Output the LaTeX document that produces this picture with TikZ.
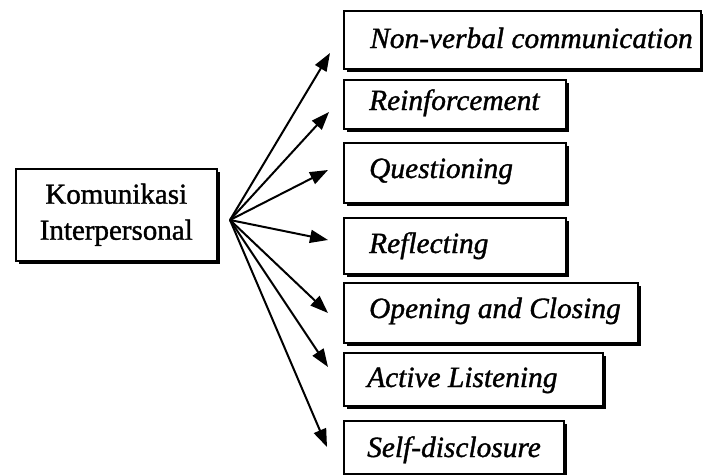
\documentclass[tikz,border=0pt]{standalone}
\usepackage{fontspec}
\setmainfont{Liberation Serif}[RawFeature={embolden=1.2}]
\usetikzlibrary{arrows.meta,shadows}
\begin{document}
\begin{tikzpicture}[x=1pt,y=-1pt,
  boxshadow/.style={drop shadow={shadow xshift=3pt,shadow yshift=-3pt,fill=black,opacity=1}},
  rbox/.style={draw=black,fill=white,line width=1.5pt,boxshadow,anchor=north west,
    inner sep=0pt},
  rtext/.style={anchor=base west,inner sep=0pt,font=\fontsize{29.4}{34}\selectfont\itshape},
  lbox/.style={draw=black,fill=white,line width=1.5pt,boxshadow,anchor=north west,
    inner sep=0pt,align=center,text width=201pt,minimum height=92pt,
    font=\fontsize{29}{36}\selectfont},
  arr/.style={line width=2pt,-{Triangle[length=18pt,width=13pt]}}]
\useasboundingbox (0,0) rectangle (703,474);
\node[lbox] (src) at (15,168) {Komunikasi\\Interpersonal};
\node[rbox,minimum width=357pt,minimum height=58pt] (b1) at (343,10) {};
\node[rbox,minimum width=222pt,minimum height=49pt] (b2) at (343,79) {};
\node[rbox,minimum width=222pt,minimum height=60pt] (b3) at (343,142) {};
\node[rbox,minimum width=222pt,minimum height=56pt] (b4) at (343,217) {};
\node[rbox,minimum width=294pt,minimum height=60pt] (b5) at (343,282) {};
\node[rbox,minimum width=259pt,minimum height=53pt] (b6) at (343,352) {};
\node[rbox,minimum width=220pt,minimum height=53pt] (b7) at (343,420) {};
\node[rtext] (l1) at (370,48) {Non-verbal communication};
\node[rtext] (l2) at (369,110) {Reinforcement};
\node[rtext] (l3) at (369,178) {Questioning};
\node[rtext] (l4) at (369,253) {Reflecting};
\node[rtext] (l5) at (369,318) {Opening and Closing};
\node[rtext] (l6) at (367,387) {Active Listening};
\node[rtext] (l7) at (367,457) {Self-disclosure};
\coordinate (hub) at (230,220);
\coordinate (t1) at (330,53);
\coordinate (t2) at (329,112);
\coordinate (t3) at (328,170);
\coordinate (t4) at (328,240);
\coordinate (t5) at (328,313);
\coordinate (t6) at (328,367);
\coordinate (t7) at (327,447);
\foreach \i in {1,...,7} \draw[arr] (hub) -- (t\i);
\end{tikzpicture}
\end{document}
